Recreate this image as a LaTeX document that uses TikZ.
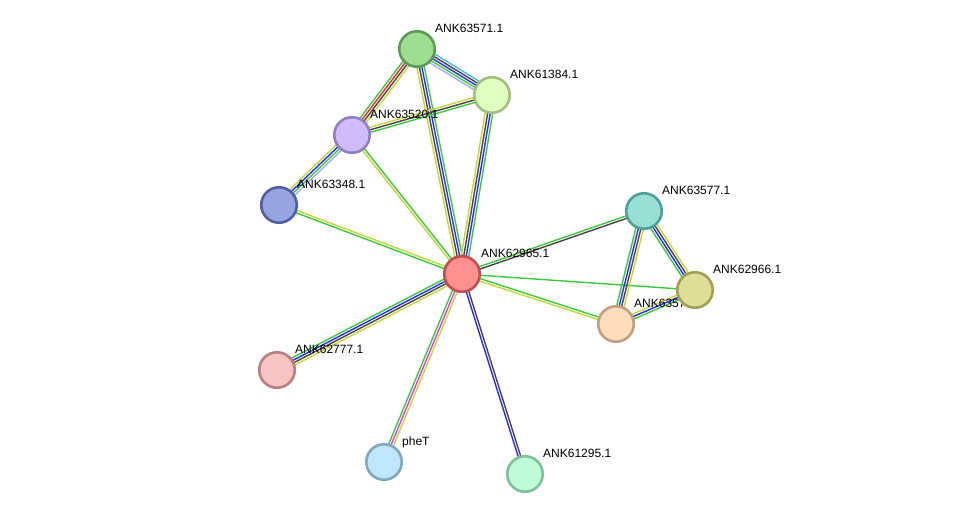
\documentclass[tikz,border=0pt]{standalone}
\usepackage{fontspec}
\setmainfont{Liberation Sans}
\usetikzlibrary{calc}
\definecolor{eG}{HTML}{3CC83C}
\definecolor{eY}{HTML}{C4D63A}
\definecolor{eK}{HTML}{454545}
\definecolor{eB}{HTML}{2A2AF0}
\definecolor{eC}{HTML}{48B8E0}
\definecolor{eL}{HTML}{A8A8F4}
\definecolor{eR}{HTML}{F02828}
\definecolor{eM}{HTML}{E03CE0}
\tikzset{
  edge/.style={line width=1.4pt},
  prot/.style={circle,minimum size=35.5pt,inner sep=0pt,line width=2.6pt},
  lab/.style={anchor=base west,inner sep=0pt,font=\fontsize{12pt}{14pt}\selectfont}
}
\newcommand\pl[4]{\draw[edge,draw=#4] ($(#1)!#3!90:(#2)$) -- ($(#2)!#3!-90:(#1)$);}
\begin{document}
\begin{tikzpicture}[x=1pt,y=-1pt]
\useasboundingbox (0,0) rectangle (976,520);
\coordinate (a) at (417,49);   % ANK63571.1
\coordinate (b) at (492,95);   % ANK61384.1
\coordinate (c) at (352,135);  % ANK63520.1
\coordinate (d) at (279,205);  % ANK63348.1
\coordinate (e) at (462,274);  % ANK62965.1
\coordinate (f) at (644,211);  % ANK63577.1
\coordinate (g) at (695,290);  % ANK62966.1
\coordinate (h) at (616,324);  % ANK635..
\coordinate (i) at (277,370);  % ANK62777.1
\coordinate (j) at (384,462);  % pheT
\coordinate (k) at (525,474);  % ANK61295.1
% a-b
\pl{a}{b}{5pt}{eC}\pl{a}{b}{2.5pt}{eK}\pl{a}{b}{0pt}{eB}\pl{a}{b}{-2.5pt}{eG}\pl{a}{b}{-5pt}{eL}
% a-c
\pl{a}{c}{-3.75pt}{eG}\pl{a}{c}{-1.25pt}{eR}\pl{a}{c}{1.25pt}{eK}\pl{a}{c}{3.75pt}{eY}
% a-e
\pl{a}{e}{-3.75pt}{eY}\pl{a}{e}{-1.25pt}{eK}\pl{a}{e}{1.25pt}{eB}\pl{a}{e}{3.75pt}{eG}
% b-e
\pl{b}{e}{-3.75pt}{eY}\pl{b}{e}{-1.25pt}{eK}\pl{b}{e}{1.25pt}{eB}\pl{b}{e}{3.75pt}{eG}
% b-c
\pl{b}{c}{-2.5pt}{eY}\pl{b}{c}{0pt}{eK}\pl{b}{c}{2.5pt}{eG}
% c-d
\pl{c}{d}{-3.75pt}{eY}\pl{c}{d}{-1.25pt}{eB}\pl{c}{d}{1.25pt}{eG}\pl{c}{d}{3.75pt}{eL}
% c-e
\pl{c}{e}{1.25pt}{eG}\pl{c}{e}{-1.25pt}{eY}
% d-e
\pl{d}{e}{1.25pt}{eY}\pl{d}{e}{-1.25pt}{eG}
% e-f
\pl{e}{f}{1.25pt}{eG}\pl{e}{f}{-1.25pt}{eK}
% e-g
\pl{e}{g}{0pt}{eG}
% e-h
\pl{e}{h}{1.25pt}{eG}\pl{e}{h}{-1.25pt}{eY}
% f-h
\pl{f}{h}{-3.75pt}{eG}\pl{f}{h}{-1.25pt}{eB}\pl{f}{h}{1.25pt}{eK}\pl{f}{h}{3.75pt}{eY}
% f-g
\pl{f}{g}{-3.75pt}{eG}\pl{f}{g}{-1.25pt}{eB}\pl{f}{g}{1.25pt}{eK}\pl{f}{g}{3.75pt}{eY}
% h-g
\pl{h}{g}{2.5pt}{eY}\pl{h}{g}{0pt}{eB}\pl{h}{g}{-2.5pt}{eG}
% e-i
\pl{e}{i}{-3.75pt}{eG}\pl{e}{i}{-1.25pt}{eB}\pl{e}{i}{1.25pt}{eK}\pl{e}{i}{3.75pt}{eY}
% e-j
\pl{e}{j}{-2.5pt}{eG}\pl{e}{j}{0pt}{eM}\pl{e}{j}{2.5pt}{eY}
% e-k
\pl{e}{k}{-1.25pt}{eB}\pl{e}{k}{1.25pt}{eK}
% labels
\node[lab] (la) at ($(a)+(18,-17)$) {ANK63571.1};
\node[lab] (lb) at ($(b)+(18,-17)$) {ANK61384.1};
\node[lab] (lc) at ($(c)+(18,-17)$) {ANK63520.1};
\node[lab] (ld) at ($(d)+(18,-17)$) {ANK63348.1};
\node[lab] (le) at ($(e)+(19,-17)$) {ANK62965.1};
\node[lab] (lf) at ($(f)+(18,-17)$) {ANK63577.1};
\node[lab] (lg) at ($(g)+(18,-17)$) {ANK62966.1};
\node[lab] (lh) at ($(h)+(18,-17)$) {ANK63576.1};
\node[lab] (li) at ($(i)+(18,-17)$) {ANK62777.1};
\node[lab] (lj) at ($(j)+(18,-17)$) {pheT};
\node[lab] (lk) at ($(k)+(18,-17)$) {ANK61295.1};
% nodes
\node[prot,fill={rgb,255:red,159;green,222;blue,144},draw={rgb,255:red,92;green,154;blue,85}] (A) at (a) {};
\node[prot,fill={rgb,255:red,224;green,255;blue,192},draw={rgb,255:red,160;green,191;blue,128}] (B) at (b) {};
\node[prot,fill={rgb,255:red,208;green,188;blue,250},draw={rgb,255:red,144;green,128;blue,192}] (C) at (c) {};
\node[prot,fill={rgb,255:red,152;green,164;blue,224},draw={rgb,255:red,80;green,96;blue,160}] (D) at (d) {};
\node[prot,fill={rgb,255:red,255;green,144;blue,144},draw={rgb,255:red,192;green,80;blue,80}] (E) at (e) {};
\node[prot,fill={rgb,255:red,152;green,224;blue,212},draw={rgb,255:red,80;green,160;blue,152}] (F) at (f) {};
\node[prot,fill={rgb,255:red,255;green,220;blue,188},draw={rgb,255:red,192;green,160;blue,128}] (H) at (h) {};
\node[prot,fill={rgb,255:red,222;green,222;blue,152},draw={rgb,255:red,160;green,160;blue,88}] (G) at (g) {};
\node[prot,fill={rgb,255:red,248;green,196;blue,196},draw={rgb,255:red,184;green,128;blue,128}] (I) at (i) {};
\node[prot,fill={rgb,255:red,192;green,230;blue,252},draw={rgb,255:red,128;green,168;blue,192}] (J) at (j) {};
\node[prot,fill={rgb,255:red,192;green,252;blue,216},draw={rgb,255:red,128;green,192;blue,152}] (K) at (k) {};
\end{tikzpicture}
\end{document}
